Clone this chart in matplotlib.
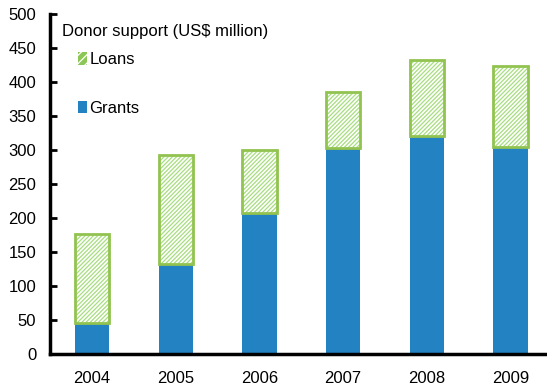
import matplotlib
matplotlib.use("Agg")
import matplotlib.pyplot as plt
from matplotlib.patches import Patch
import numpy as np

years = ["2004", "2005", "2006", "2007", "2008", "2009"]
grants = [46, 132, 208, 303, 321, 305]
loans = [130, 161, 92, 83, 111, 119]

plt.rcParams["font.family"] = ["Liberation Sans", "DejaVu Sans"]
plt.rcParams["hatch.linewidth"] = 0.9

fig = plt.figure(figsize=(5.47, 3.85), dpi=100)
ax = fig.add_axes([0.0917, 0.0805, 0.918, 0.883])

x = np.arange(len(years))
width = 0.41
blue = "#2382C2"
green_edge = "#92C350"
green_hatch = "#A8DD80"
fs = 12

ax.bar(x, grants, width, color=blue, linewidth=0)
ax.bar(x, loans, width, bottom=grants, facecolor="white",
       edgecolor=green_hatch, hatch="////////", linewidth=0)
ax.bar(x, loans, width, bottom=grants, fill=False,
       edgecolor=green_edge, linewidth=2)

ax.set_xlim(-0.5, len(years) - 0.5)
ax.set_ylim(0, 500)
ax.set_yticks(np.arange(0, 501, 50))
ax.set_xticks(x)
ax.set_xticklabels(years)

for side in ("top", "right"):
    ax.spines[side].set_visible(False)
ax.spines["left"].set_linewidth(2.5)
ax.spines["bottom"].set_linewidth(2.5)
ax.tick_params(axis="y", direction="in", length=5, width=2, pad=10,
               labelsize=fs, colors="black")
ax.tick_params(axis="x", length=0, pad=12, labelsize=fs)

ax.text(0.024, 0.972, "Donor support (US$ million)", transform=ax.transAxes,
        fontsize=fs, va="top", ha="left")

handles = [
    Patch(facecolor="#8CC654", edgecolor="white", hatch="////", linewidth=0),
    Patch(facecolor=blue, linewidth=0),
]
leg = ax.legend(handles, ["Loans", "Grants"], loc="upper left",
                bbox_to_anchor=(0.042, 0.907), frameon=False,
                handlelength=0.55, handleheight=0.75, handletextpad=0.15,
                labelspacing=2.0, fontsize=fs, borderaxespad=0)

fig.savefig("out.png", dpi=100)
